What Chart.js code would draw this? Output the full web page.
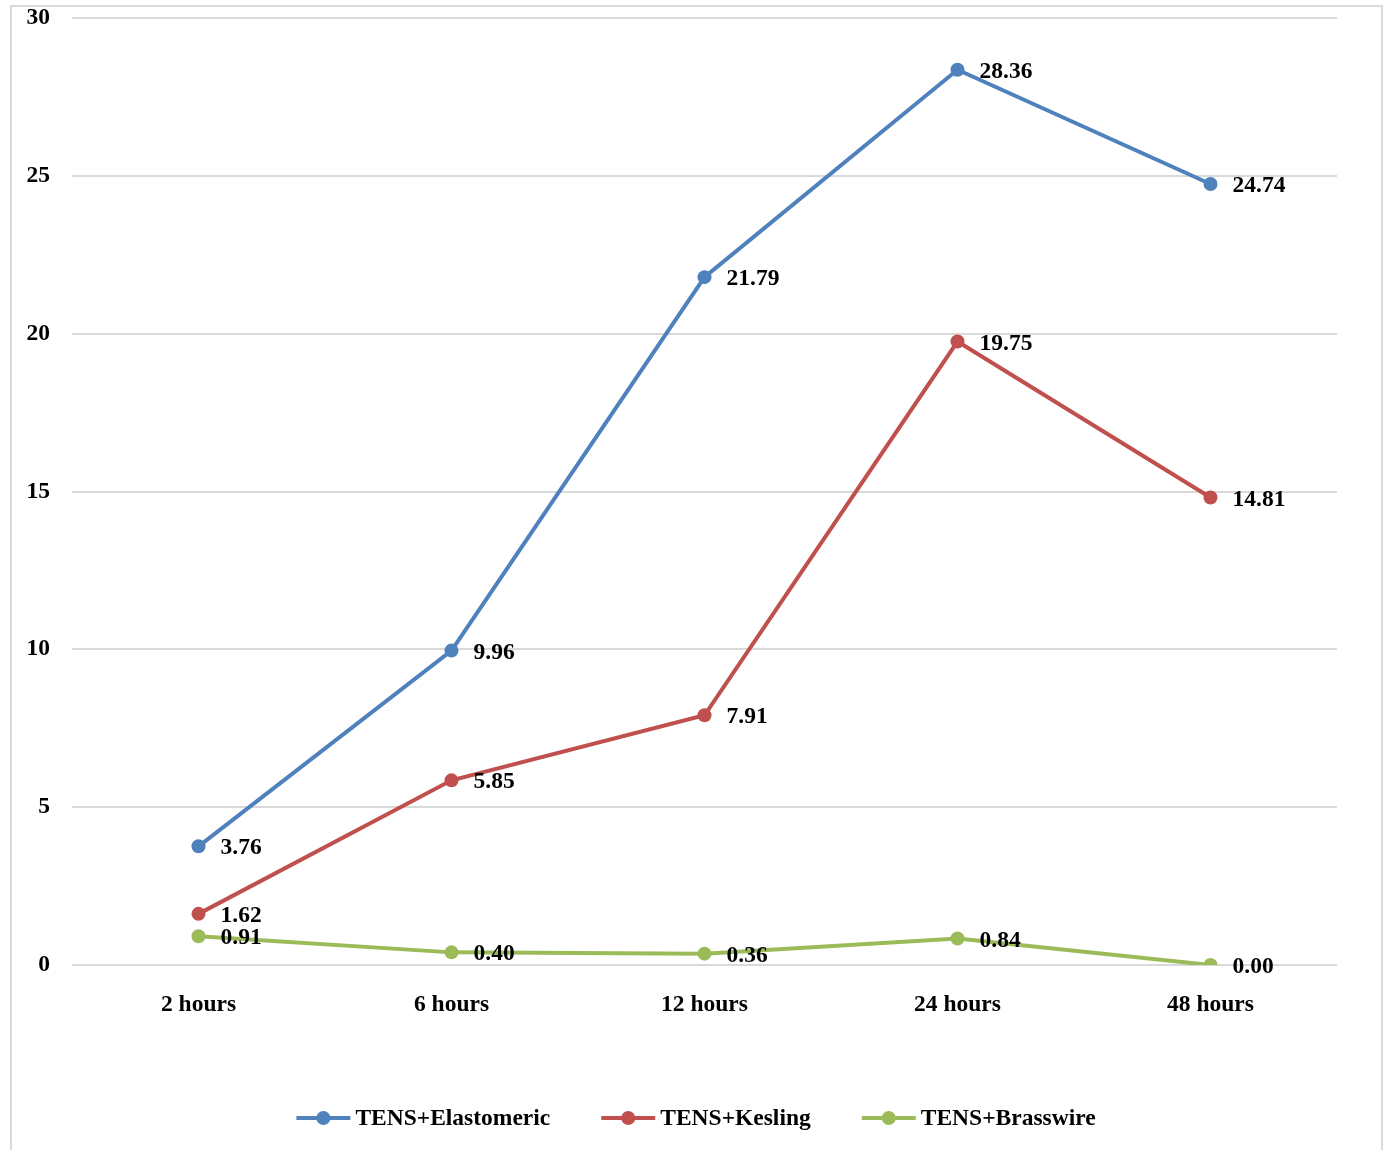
<!DOCTYPE html>
<html>
<head>
<meta charset="utf-8">
<script src="https://cdn.jsdelivr.net/npm/chart.js@4"></script>
<style>
  html, body { margin: 0; padding: 0; background: #fff; }
  #wrap { position: relative; width: 1385px; height: 1150px; }
</style>
</head>
<body>
<div id="wrap"><canvas id="chart" width="1385" height="1150"></canvas></div>
<script>
const categories = ['2 hours', '6 hours', '12 hours', '24 hours', '48 hours'];
const elastomeric = [3.76, 9.96, 21.79, 28.36, 24.74];
const kesling = [1.62, 5.85, 7.91, 19.75, 14.81];
const brasswire = [0.91, 0.40, 0.36, 0.84, 0.00];
const yTicks = [0, 5, 10, 15, 20, 25, 30];

const FONT = '"Liberation Serif", "Times New Roman", serif';

const series = [
  { label: 'TENS+Elastomeric', data: elastomeric, color: '#4F81BD' },
  { label: 'TENS+Kesling', data: kesling, color: '#C0504D' },
  { label: 'TENS+Brasswire', data: brasswire, color: '#9BBB59' },
];

// frame around the chart, like the office chart border
const framePlugin = {
  id: 'frame',
  beforeDraw(chart) {
    const ctx = chart.ctx;
    ctx.save();
    ctx.strokeStyle = '#d9d9d9';
    ctx.lineWidth = 2;
    ctx.strokeRect(11, 6, 1371, 1160);
    ctx.restore();
  },
};

// value labels to the right of each point
const valueLabels = {
  id: 'valueLabels',
  afterDatasetsDraw(chart) {
    const ctx = chart.ctx;
    ctx.save();
    ctx.font = 'bold 23.5px ' + FONT;
    ctx.fillStyle = '#000';
    ctx.textAlign = 'left';
    ctx.textBaseline = 'middle';
    chart.data.datasets.forEach((ds, i) => {
      chart.getDatasetMeta(i).data.forEach((pt, j) => {
        ctx.fillText(ds.data[j].toFixed(2), pt.x + 22, pt.y + 2);
      });
    });
    ctx.restore();
  },
};

// legend: line with a dot, then the name
const lineLegend = {
  id: 'lineLegend',
  afterDraw(chart) {
    const ctx = chart.ctx;
    ctx.save();
    ctx.font = 'bold 23.5px ' + FONT;
    ctx.textBaseline = 'middle';
    ctx.textAlign = 'left';
    const sample = 54, gap = 5, spacing = 51;
    const widths = series.map((s) => sample + gap + ctx.measureText(s.label).width);
    const total = widths.reduce((a, b) => a + b, 0) + spacing * (series.length - 1);
    let x = 696 - total / 2;
    const y = 1118;
    series.forEach((s, i) => {
      ctx.strokeStyle = s.color;
      ctx.lineWidth = 4;
      ctx.beginPath();
      ctx.moveTo(x, y);
      ctx.lineTo(x + sample, y);
      ctx.stroke();
      ctx.fillStyle = s.color;
      ctx.beginPath();
      ctx.arc(x + sample / 2, y, 7, 0, Math.PI * 2);
      ctx.fill();
      ctx.fillStyle = '#000';
      ctx.fillText(s.label, x + sample + gap, y + 1);
      x += widths[i] + spacing;
    });
    ctx.restore();
  },
};

new Chart(document.getElementById('chart'), {
  type: 'line',
  data: {
    labels: categories,
    datasets: series.map((s) => ({
      label: s.label,
      data: s.data,
      borderColor: s.color,
      backgroundColor: s.color,
      borderWidth: 4,
      pointRadius: 7,
      pointHoverRadius: 7,
      pointBackgroundColor: s.color,
      pointBorderWidth: 0,
      tension: 0,
    })),
  },
  options: {
    responsive: false,
    animation: false,
    layout: { padding: { top: 18, right: 48, bottom: 100, left: 0 } },
    plugins: {
      legend: { display: false },
      tooltip: { enabled: false },
    },
    scales: {
      x: {
        offset: true,
        grid: { display: false, drawTicks: false },
        border: { display: false },
        ticks: {
          color: '#000',
          padding: 26,
          font: { family: FONT, size: 23.5, weight: 'bold' },
        },
        afterFit(scale) {
          scale.height = 85;
          scale.paddingLeft = 0;
          scale.paddingRight = 0;
        },
      },
      y: {
        min: 0,
        max: 30,
        afterBuildTicks(scale) { scale.ticks = yTicks.map((v) => ({ value: v })); },
        grid: { color: '#d9d9d9', lineWidth: 2, drawTicks: false },
        border: { display: false },
        ticks: {
          color: '#000',
          padding: 22,
          font: { family: FONT, size: 23.5, weight: 'bold' },
        },
        afterFit(scale) {
          scale.width = 72;
          scale.paddingTop = 0;
          scale.paddingBottom = 0;
        },
      },
    },
  },
  plugins: [framePlugin, valueLabels, lineLegend],
});
</script>
</body>
</html>
